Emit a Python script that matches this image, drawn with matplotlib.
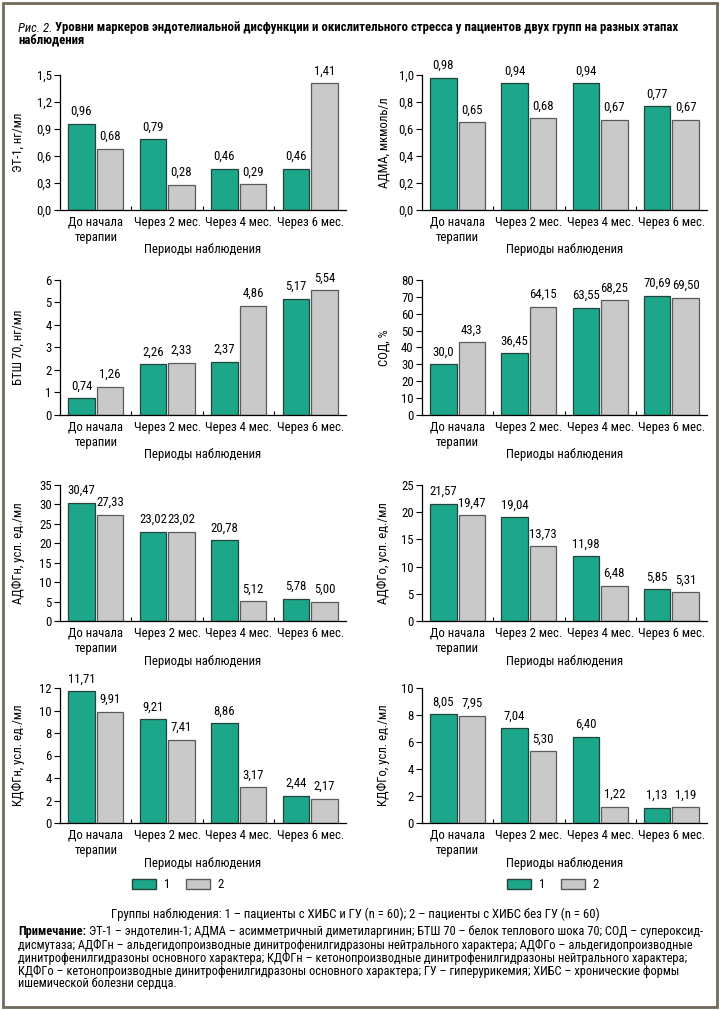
import matplotlib
matplotlib.use("Agg")
import matplotlib.pyplot as plt
from matplotlib import font_manager
from matplotlib.patches import Patch, Rectangle

names = {f.name for f in font_manager.fontManager.ttflist}
fam = "Liberation Sans"
for cand in ["Roboto Condensed", "PT Sans Narrow", "Fira Sans Condensed", "IBM Plex Sans Condensed",
             "Open Sans Condensed", "Ubuntu Condensed", "Liberation Sans Narrow"]:
    if cand in names:
        fam = cand
        break
plt.rcParams["font.family"] = [fam, "Liberation Sans", "DejaVu Sans"]

periods = ["До начала\nтерапии", "Через 2 мес.", "Через 4 мес.", "Через 6 мес."]

et1_g1 = [0.96, 0.79, 0.46, 0.46]
et1_g2 = [0.68, 0.28, 0.29, 1.41]
adma_g1 = [0.98, 0.94, 0.94, 0.77]
adma_g2 = [0.65, 0.68, 0.67, 0.67]
btsh_g1 = [0.74, 2.26, 2.37, 5.17]
btsh_g2 = [1.26, 2.33, 4.86, 5.54]
sod_g1 = [30.0, 36.45, 63.55, 70.69]
sod_g2 = [43.3, 64.15, 68.25, 69.50]
adfgn_g1 = [30.47, 23.02, 20.78, 5.78]
adfgn_g2 = [27.33, 23.02, 5.12, 5.00]
adfgo_g1 = [21.57, 19.04, 11.98, 5.85]
adfgo_g2 = [19.47, 13.73, 6.48, 5.31]
kdfgn_g1 = [11.71, 9.21, 8.86, 2.44]
kdfgn_g2 = [9.91, 7.41, 3.17, 2.17]
kdfgo_g1 = [8.05, 7.04, 6.40, 1.13]
kdfgo_g2 = [7.95, 5.30, 1.22, 1.19]

GREEN = "#1ca68a"
GRAY = "#c9c9c9"
FS = 9.2

fig = plt.figure(figsize=(7.2, 10.1), dpi=100)


def comma(v, d):
    return f"{v:.{d}f}".replace(".", ",")


def panel(col, row, g1, g2, ylabel, ymax, ystep, ydec, dec1, dec2):
    left = 60 if col == 0 else 422
    width = 286 if col == 0 else 285
    top = [75, 280, 485, 688][row]
    bottom = [210, 415, 621, 823][row]
    ax = fig.add_axes([left / 720, 1 - bottom / 1010, width / 720, (bottom - top) / 1010])
    x = [1, 2, 3, 4]
    ax.bar([i - 0.2 for i in x], g1, width=0.37, color=GREEN, edgecolor="#24443b", linewidth=0.9)
    ax.bar([i + 0.2 for i in x], g2, width=0.37, color=GRAY, edgecolor="#5a5a5a", linewidth=0.9)
    for i in range(4):
        ax.annotate(comma(g1[i], dec1[i]), (x[i] - 0.2, g1[i]), xytext=(0, 4),
                    textcoords="offset points", ha="center", va="bottom", fontsize=FS,
                    annotation_clip=False)
        ax.annotate(comma(g2[i], dec2[i]), (x[i] + 0.2, g2[i]), xytext=(0, 4),
                    textcoords="offset points", ha="center", va="bottom", fontsize=FS,
                    annotation_clip=False)
    ax.set_xlim(0.5, 4.5)
    ax.set_ylim(0, ymax)
    ticks = [k * ystep for k in range(int(round(ymax / ystep)) + 1)]
    ax.set_yticks(ticks)
    ax.set_yticklabels([comma(t, ydec) for t in ticks], fontsize=FS)
    ax.set_xticks(x)
    ax.set_xticklabels(periods, fontsize=FS, linespacing=1.2)
    ax.set_xticks([1.5, 2.5, 3.5], minor=True)
    ax.tick_params(axis="x", which="major", length=0, pad=4)
    ax.tick_params(axis="x", which="minor", direction="in", length=3, width=0.8)
    ax.tick_params(axis="y", direction="out", length=4, width=0.8, pad=2)
    for s in ["top", "right"]:
        ax.spines[s].set_visible(False)
    ax.spines["left"].set_linewidth(0.9)
    ax.spines["bottom"].set_linewidth(0.9)
    ax.set_ylabel(ylabel, fontsize=FS)
    ax.yaxis.set_label_coords(-(left - (25 if col == 0 else 390)) / width, 0.5)
    ax.text(0.5, -40 / (bottom - top), "Периоды наблюдения", transform=ax.transAxes,
            ha="center", va="center", fontsize=FS)
    return ax


d2 = [2, 2, 2, 2]
panel(0, 0, et1_g1, et1_g2, "ЭТ-1, нг/мл", 1.5, 0.3, 1, d2, d2)
panel(1, 0, adma_g1, adma_g2, "АДМА, мкмоль/л", 1.0, 0.2, 1, d2, d2)
panel(0, 1, btsh_g1, btsh_g2, "БТШ 70, нг/мл", 6, 1, 0, d2, d2)
panel(1, 1, sod_g1, sod_g2, "СОД, %", 80, 10, 0, [1, 2, 2, 2], [1, 2, 2, 2])
panel(0, 2, adfgn_g1, adfgn_g2, "АДФГн, усл. ед./мл", 35, 5, 0, d2, d2)
panel(1, 2, adfgo_g1, adfgo_g2, "АДФГо, усл. ед./мл", 25, 5, 0, d2, d2)
panel(0, 3, kdfgn_g1, kdfgn_g2, "КДФГн, усл. ед./мл", 12, 2, 0, d2, d2)
panel(1, 3, kdfgo_g1, kdfgo_g2, "КДФГо, усл. ед./мл", 10, 2, 0, d2, d2)

renderer = fig.canvas.get_renderer()


def after(t, gap=3):
    # x position (figure fraction) just after a text
    bb = t.get_window_extent(renderer)
    return (bb.x1 + gap) / 720


# title
t = fig.text(18 / 720, 1 - 28 / 1010, "Рис. 2.", fontsize=FS, style="italic", va="center")
fig.text(after(t), 1 - 28 / 1010,
         "Уровни маркеров эндотелиальной дисфункции и окислительного стресса у пациентов двух групп на разных этапах",
         fontsize=FS, weight="bold", va="center")
fig.text(18 / 720, 1 - 40 / 1010, "наблюдения", fontsize=FS, weight="bold", va="center")

# legends
handles = [Patch(facecolor=GREEN, edgecolor="#24443b", label="1"),
           Patch(facecolor=GRAY, edgecolor="#5a5a5a", label="2")]
for cx in [178, 553]:
    fig.legend(handles=handles, loc="center", bbox_to_anchor=(cx / 720, 1 - 885 / 1010),
               ncol=2, frameon=False, fontsize=FS, handlelength=1.9, handleheight=0.8,
               columnspacing=1.2, handletextpad=0.6)

fig.text(355 / 720, 1 - 914 / 1010,
         "Группы наблюдения: 1 – пациенты с ХИБС и ГУ (n = 60); 2 – пациенты с ХИБС без ГУ (n = 60)",
         fontsize=FS, ha="center", va="center")

note = [
    "ЭТ-1 – эндотелин-1; АДМА – асимметричный диметиларгинин; БТШ 70 – белок теплового шока 70; СОД – супероксид-",
    "дисмутаза; АДФГн – альдегидопроизводные динитрофенилгидразоны нейтрального характера; АДФГо – альдегидопроизводные",
    "динитрофенилгидразоны основного характера; КДФГн – кетонопроизводные динитрофенилгидразоны нейтрального характера;",
    "КДФГо – кетонопроизводные динитрофенилгидразоны основного характера; ГУ – гиперурикемия; ХИБС – хронические формы",
    "ишемической болезни сердца.",
]
NFS = 8.9
t = fig.text(18 / 720, 1 - 932 / 1010, "Примечание:", fontsize=NFS, weight="bold", va="center")
x_first = after(t)
for k, line in enumerate(note):
    x0 = x_first if k == 0 else 18 / 720
    fig.text(x0, 1 - (932 + 13 * k) / 1010, line, fontsize=NFS, va="center")

fig.patches.append(Rectangle((3 / 720, 3 / 1010), 714 / 720, 1004 / 1010, transform=fig.transFigure,
                             fill=False, edgecolor="#716a5c", linewidth=2))

fig.savefig("out.png", dpi=100)
